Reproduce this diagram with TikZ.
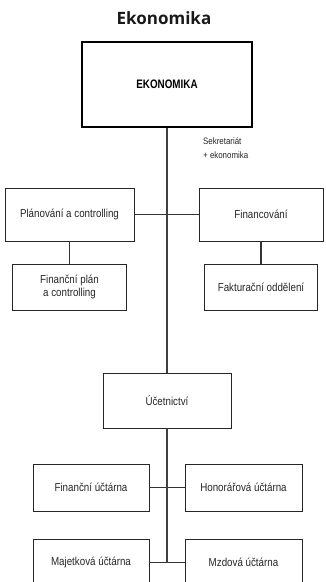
\documentclass[tikz,border=0pt]{standalone}
\usepackage{fontspec}
\setmainfont{Liberation Sans}[FakeStretch=0.85]
\newfontfamily\titlefont{Open Sans}
\newfontfamily\headfont{Liberation Sans}[FakeStretch=0.8]
\begin{document}
\begin{tikzpicture}[x=1pt,y=-1pt,
  box/.style={draw=black!85,line width=0.9pt,fill=white,inner sep=0pt,align=center,font=\fontsize{11.5}{13.5}\selectfont,text=black!85},
  mainbox/.style={draw=black,line width=2.4pt,fill=white,inner sep=0pt,align=center},
  link/.style={draw=black!80,line width=1.2pt},
  spine/.style={draw=black!75,line width=1.6pt}]
\clip (0,0) rectangle (326,582);
\fill[white] (0,0) rectangle (326,582);
\node[font=\titlefont\bfseries\fontsize{17}{19}\selectfont,text=black!90] (title) at (164,18) {Ekonomika};
\node[mainbox,minimum width=170pt,minimum height=85pt,font=\headfont\bfseries\fontsize{12.3}{14}\selectfont] (main) at (167,84.5) {EKONOMIKA};
\node[anchor=north west,inner sep=0pt,align=left,font=\fontsize{9.3}{14}\selectfont,text=black!85] (sek) at (203,137) {Sekretariát\\+ ekonomika};
\node[box,minimum width=129pt,minimum height=53pt] (plan) at (69.5,214.5) {Plánování a controlling};
\node[box,minimum width=124pt,minimum height=53pt] (fin) at (261,214.5) {Financování};
\node[box,minimum width=114pt,minimum height=46pt] (fp) at (69.5,287) {Finanční plán\\a controlling};
\node[box,minimum width=113pt,minimum height=46pt] (fakt) at (261,287) {Fakturační oddělení};
\node[box,minimum width=128pt,minimum height=55pt] (uc) at (167,400.5) {Účetnictví};
\node[box,minimum width=116pt,minimum height=47pt] (fu) at (91,487.5) {Finanční účtárna};
\node[box,minimum width=117pt,minimum height=47pt] (hu) at (243.5,487.5) {Honorářová účtárna};
\node[box,minimum width=116pt,minimum height=47pt] (maj) at (91,562.5) {Majetková účtárna};
\node[box,minimum width=117pt,minimum height=47pt] (mz) at (243.5,562.5) {Mzdová účtárna};
\coordinate (bot) at (167,562.5);
\draw[link] (plan.east) -- (fin.west);
\draw[link] (plan.south) -- (fp.north);
\draw[link] (fin.south) -- (fin.south |- fakt.north);
\draw[link] (fu.east) -- (hu.west);
\draw[link] (maj.east) -- (mz.west);
\draw[spine] (main.south) -- (uc.north);
\draw[spine] (uc.south) -- (bot);
\end{tikzpicture}
\end{document}
